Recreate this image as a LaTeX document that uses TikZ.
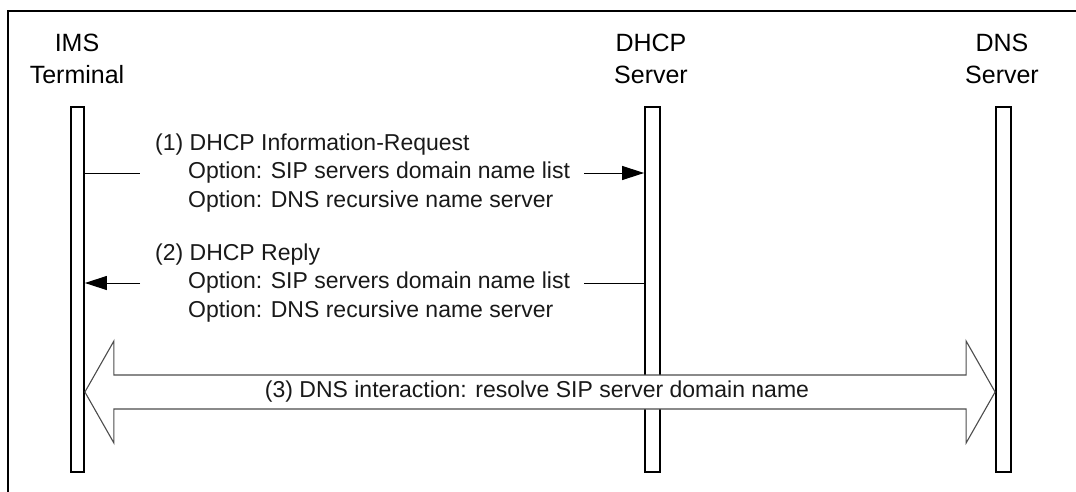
\documentclass[tikz,border=0pt]{standalone}
\usepackage{fontspec}
\setmainfont{Liberation Sans}
\usetikzlibrary{arrows.meta}
\begin{document}
\begin{tikzpicture}[x=1pt,y=-1pt,
  lifebar/.style={draw, line width=1.8pt, fill=white, minimum height=365pt, inner sep=0pt},
  entity/.style={align=center, font=\fontsize{25}{32}\selectfont, inner sep=0pt},
  msgtxt/.style={anchor=west, font=\fontsize{23}{28}\selectfont, inner sep=0pt, text=black!90},
  msgline/.style={line width=1pt},
  msgarrow/.style={line width=1pt, -{Triangle[length=22pt,width=14pt]}},
  bigarrow/.style={draw=black!70, line width=1.1pt, fill=white, line join=miter},
  frame/.style={line width=2.6pt}]
\useasboundingbox (0,0) rectangle (1076,491);

% outer frame (top and left edges)
\draw[frame] (8,495) -- (8,11) -- (1080,11);

% entities
\node[entity] (ims-l)  at (77,59)   {IMS\\Terminal};
\node[entity] (dhcp-l) at (651,59)  {DHCP\\Server};
\node[entity] (dns-l)  at (1002,59) {DNS\\Server};

% lifelines
\node[lifebar, minimum width=13pt] (ims)  at (77.5,289.5)  {};
\node[lifebar, minimum width=15pt] (dhcp) at (652.5,289.5) {};
\node[lifebar, minimum width=15pt] (dns)  at (1003.5,289.5) {};

% (1) DHCP Information-Request
\node[msgtxt] (m1a) at (155,145) {(1) DHCP Information-Request};
\node[msgtxt] (m1b) at (188,173) {Option: SIP servers domain name list};
\node[msgtxt] (m1c) at (188,202) {Option: DNS recursive name server};
\draw[msgline] (ims.east |- m1b.west) -- ([xshift=-48pt]m1b.west);
\draw[msgarrow] ([xshift=14pt]m1b.east) -- (dhcp.west |- m1b.east);

% (2) DHCP Reply
\node[msgtxt] (m2a) at (155,255) {(2) DHCP Reply};
\node[msgtxt] (m2b) at (188,283) {Option: SIP servers domain name list};
\node[msgtxt] (m2c) at (188,312) {Option: DNS recursive name server};
\draw[msgline] (dhcp.west |- m2b.east) -- ([xshift=14pt]m2b.east);
\draw[msgarrow] ([xshift=-48pt]m2b.west) -- (ims.east |- m2b.west);

% (3) DNS interaction: wide double-headed arrow between the outer lifelines
\coordinate (lt) at (ims.east |- 0,392);
\coordinate (rt) at (dns.west |- 0,392);
\draw[bigarrow] (lt) -- ([xshift=29pt,yshift=-51pt]lt) -- ([xshift=29pt,yshift=-17pt]lt)
  -- ([xshift=-29pt,yshift=-17pt]rt) -- ([xshift=-29pt,yshift=-51pt]rt) -- (rt)
  -- ([xshift=-29pt,yshift=51pt]rt) -- ([xshift=-29pt,yshift=17pt]rt)
  -- ([xshift=29pt,yshift=17pt]lt) -- ([xshift=29pt,yshift=51pt]lt) -- cycle;
\node[font=\fontsize{23}{28}\selectfont, inner sep=0pt, text=black!90] (m3) at (537,392)
  {(3) DNS interaction: resolve SIP server domain name};
\end{tikzpicture}
\end{document}
